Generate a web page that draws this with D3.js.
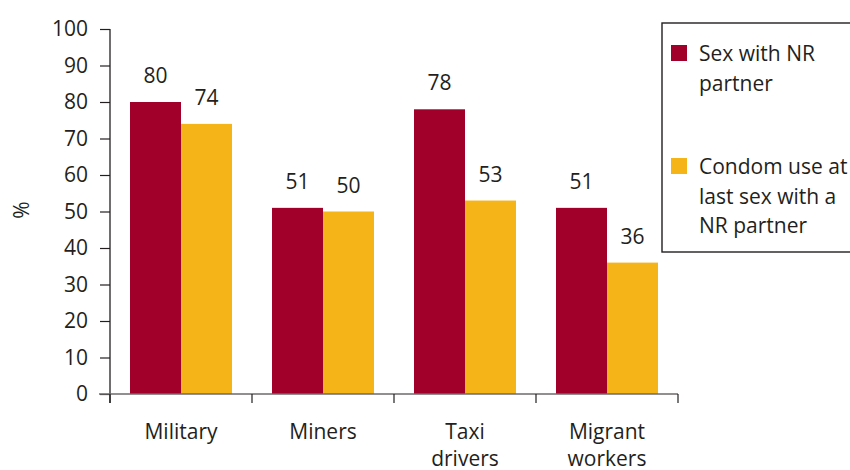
<!DOCTYPE html>
<html><head><meta charset="utf-8">
<script src="https://cdn.jsdelivr.net/npm/d3@7"></script>
<style>
body{margin:0;background:#fff;}
svg text{font-family:"Open Sans",sans-serif;fill:#231f20;}
</style></head>
<body><svg id="c" width="850" height="470"></svg>
<script>
const categories = [["Military"], ["Miners"], ["Taxi", "drivers"], ["Migrant", "workers"]];
const seriesNames = ["Sex with NR partner", "Condom use at last sex with a NR partner"];
const sexNR = [80, 51, 78, 51];
const condomUse = [74, 50, 53, 36];
const yTicks = [0, 10, 20, 30, 40, 50, 60, 70, 80, 90, 100];
const legendLines = [["Sex with NR", "partner"], ["Condom use at", "last sex with a", "NR partner"]];
const colors = ["#a0002a", "#f5b418"];

const svg = d3.select("#c");
const fs = 21;
const catKeys = categories.map(c => c.join(" "));
const x0 = d3.scaleBand().domain(catKeys).range([110, 678]).padding(0);
const x1 = d3.scaleBand().domain(seriesNames).range([20, x0.bandwidth() - 20]).padding(0);
const y = d3.scaleLinear().domain([0, 100]).range([394, 29]);
const values = [sexNR, condomUse];

// bars
catKeys.forEach((k, i) => {
  seriesNames.forEach((s, j) => {
    const v = values[j][i];
    svg.append("rect")
      .attr("x", x0(k) + x1(s)).attr("y", y(v))
      .attr("width", x1.bandwidth()).attr("height", y(0) - y(v))
      .attr("fill", colors[j]);
    svg.append("text")
      .attr("x", x0(k) + x1(s) + x1.bandwidth() / 2).attr("y", y(v) - 19)
      .attr("text-anchor", "middle").attr("font-size", fs).text(v);
  });
});

// y axis
const yAxis = svg.append("g").attr("transform", "translate(110,0)")
  .call(d3.axisLeft(y).tickValues(yTicks).tickSize(10).tickPadding(12));
yAxis.select(".domain").attr("stroke", "#231f20").attr("stroke-width", 1.3)
  .attr("d", `M0,${y(100)}V${y(0) + 9}`);
yAxis.selectAll(".tick line").attr("stroke", "#231f20").attr("stroke-width", 1.2);
yAxis.selectAll(".tick text").attr("font-size", fs).attr("font-family", "Open Sans").attr("fill", "#231f20");

// x axis
const xAxisG = svg.append("g");
xAxisG.append("line").attr("x1", 99).attr("x2", 678).attr("y1", y(0)).attr("y2", y(0))
  .attr("stroke", "#6d6a6a").attr("stroke-width", 1.3);
const bounds = catKeys.map(k => x0(k)).concat([x0.range()[1]]);
bounds.forEach(b => {
  xAxisG.append("line").attr("x1", b).attr("x2", b).attr("y1", y(0)).attr("y2", y(0) + 9)
    .attr("stroke", "#231f20").attr("stroke-width", 1.2);
});
categories.forEach((c, i) => {
  const cx = x0(catKeys[i]) + x0.bandwidth() / 2;
  const t = svg.append("text").attr("text-anchor", "middle").attr("font-size", fs)
    .attr("x", cx).attr("y", 439);
  c.forEach((line, li) => t.append("tspan").attr("x", cx)
    .attr("dy", li === 0 ? 0 : 27).text(line));
});

// y title
svg.append("text").attr("transform", "translate(29,210) rotate(-90)")
  .attr("text-anchor", "middle").attr("font-size", fs).text("%");

// legend
const lg = svg.append("g");
lg.append("rect").attr("x", 662).attr("y", 23).attr("width", 260).attr("height", 229)
  .attr("fill", "none").attr("stroke", "#231f20").attr("stroke-width", 1.4);
const legTop = [45, 158];
legendLines.forEach((lines, j) => {
  lg.append("rect").attr("x", 671).attr("y", legTop[j]).attr("width", 16).attr("height", 16)
    .attr("fill", colors[j]);
  const t = lg.append("text").attr("font-size", fs).attr("x", 699).attr("y", legTop[j] + 16);
  lines.forEach((l, li) => t.append("tspan").attr("x", 699).attr("dy", li === 0 ? 0 : 29.5).text(l));
});
</script></body></html>
